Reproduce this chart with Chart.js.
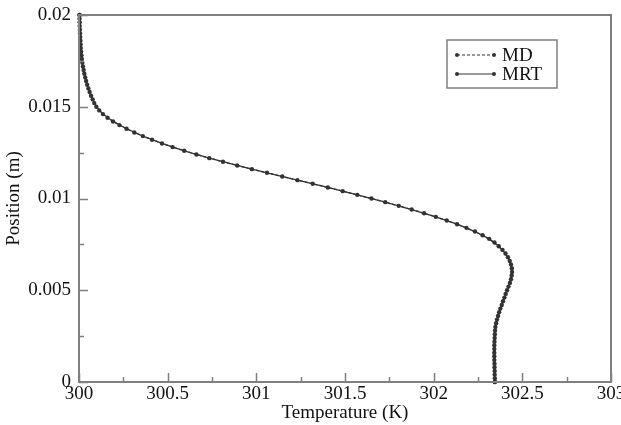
<!DOCTYPE html>
<html>
<head>
<meta charset="utf-8">
<script src="https://cdn.jsdelivr.net/npm/chart.js@4.4.1/dist/chart.umd.min.js"></script>
<style>
  html, body { margin: 0; padding: 0; background: #fff; }
</style>
</head>
<body>
<canvas id="profileChart" width="621" height="425"></canvas>
<script>
// position (m) vs temperature (K)
const positionMD = [0, 0.0004, 0.0008, 0.0012, 0.0016, 0.002, 0.0024, 0.0028, 0.0032, 0.0036,
    0.004, 0.0044, 0.0048, 0.0052, 0.0056, 0.006, 0.0064, 0.0068, 0.0072, 0.0076,
    0.008, 0.0084, 0.0088, 0.0092, 0.0096, 0.01, 0.0104, 0.0108, 0.0112, 0.0116,
    0.012, 0.0124, 0.0128, 0.0132, 0.0136, 0.014, 0.0144, 0.0148, 0.0152, 0.0156,
    0.016, 0.0164, 0.0168, 0.0172, 0.0176, 0.018, 0.0184, 0.0188, 0.0192, 0.0196, 0.02];
const temperatureMD = [302.345, 302.344, 302.343, 302.342, 302.342, 302.342, 302.344, 302.346, 302.352, 302.363,
    302.376, 302.391, 302.406, 302.422, 302.436, 302.442, 302.436, 302.419, 302.388, 302.343,
    302.276, 302.185, 302.074, 301.946, 301.803, 301.649, 301.487, 301.318, 301.146, 300.975,
    300.812, 300.662, 300.528, 300.412, 300.312, 300.228, 300.161, 300.114, 300.086, 300.068,
    300.053, 300.040, 300.030, 300.022, 300.016, 300.012, 300.009, 300.007, 300.005, 300.004, 300.003];

const positionMRT = [0, 0.0002, 0.0006, 0.001, 0.0014, 0.0018, 0.0022, 0.0026, 0.003, 0.0034,
    0.0038, 0.0042, 0.0046, 0.005, 0.0054, 0.0058, 0.0062, 0.0066, 0.007, 0.0074,
    0.0078, 0.0082, 0.0086, 0.009, 0.0094, 0.0098, 0.0102, 0.0106, 0.011, 0.0114,
    0.0118, 0.0122, 0.0126, 0.013, 0.0134, 0.0138, 0.0142, 0.0146, 0.015, 0.0154,
    0.0158, 0.0162, 0.0166, 0.017, 0.0174, 0.0178, 0.0182, 0.0186, 0.019, 0.0194, 0.0198, 0.02];
const temperatureMRT = [302.345, 302.345, 302.344, 302.343, 302.342, 302.342, 302.343, 302.345, 302.348, 302.357,
    302.369, 302.384, 302.399, 302.414, 302.430, 302.440, 302.441, 302.429, 302.405, 302.367,
    302.313, 302.233, 302.132, 302.012, 301.876, 301.727, 301.569, 301.403, 301.232, 301.060,
    300.892, 300.735, 300.593, 300.468, 300.360, 300.268, 300.192, 300.135, 300.098, 300.077,
    300.060, 300.046, 300.035, 300.026, 300.019, 300.014, 300.010, 300.008, 300.006, 300.004, 300.003, 300.003];

const xRange = [300, 303];
const yRange = [0, 0.02];

const SERIF = '"Liberation Serif", "DejaVu Serif", serif';
const INK = '#333';
const FRAME = '#808080';
const FONT_SIZE = 19;

function toPoints(xs, ys) {
    return xs.map((x, i) => ({ x: x, y: ys[i] }));
}

// frame, inward ticks (major + minor) and the boxed legend
const frameTicks = {
    id: 'frameTicks',
    afterDatasetsDraw(chart) {
        const ctx = chart.ctx;
        const a = chart.chartArea;
        const sx = chart.scales.x, sy = chart.scales.y;

        ctx.save();
        ctx.strokeStyle = FRAME;
        ctx.lineWidth = 1.5;

        ctx.beginPath();
        sx.ticks.forEach(t => {
            const px = Math.round(sx.getPixelForValue(t.value)) + 0.5;
            const len = t.label ? 9 : 5;
            ctx.moveTo(px, a.bottom);
            ctx.lineTo(px, a.bottom - len);
        });
        sy.ticks.forEach(t => {
            const py = Math.round(sy.getPixelForValue(t.value)) + 0.5;
            const len = t.label ? 9 : 5;
            ctx.moveTo(a.left, py);
            ctx.lineTo(a.left + len, py);
        });
        ctx.stroke();

        ctx.lineWidth = 2;
        ctx.strokeRect(a.left, a.top, a.right - a.left, a.bottom - a.top);

        // legend box
        const lx = 447, ly = 40, lw = 110, lh = 48;
        ctx.lineWidth = 1.5;
        ctx.strokeRect(lx, ly, lw, lh);

        ctx.font = FONT_SIZE + 'px ' + SERIF;
        ctx.textBaseline = 'middle';
        chart.data.datasets.forEach((ds, i) => {
            const yy = ly + 15 + i * 19;
            ctx.strokeStyle = INK;
            ctx.lineWidth = 1.2;
            ctx.setLineDash(ds.borderDash || []);
            ctx.beginPath();
            ctx.moveTo(457, yy);
            ctx.lineTo(494, yy);
            ctx.stroke();
            ctx.setLineDash([]);
            ctx.fillStyle = INK;
            [457, 494].forEach(px => {
                ctx.beginPath();
                ctx.arc(px, yy, 2, 0, Math.PI * 2);
                ctx.fill();
            });
            ctx.fillStyle = '#111';
            ctx.fillText(ds.label, 502, yy + 1);
        });
        ctx.restore();
    }
};

new Chart(document.getElementById('profileChart'), {
    type: 'scatter',
    data: {
        datasets: [
            {
                label: 'MD',
                data: toPoints(temperatureMD, positionMD),
                showLine: true,
                borderColor: INK,
                borderWidth: 1.3,
                borderDash: [3, 2],
                pointRadius: 2.2,
                pointBorderWidth: 0,
                pointBackgroundColor: INK,
                clip: false
            },
            {
                label: 'MRT',
                data: toPoints(temperatureMRT, positionMRT),
                showLine: true,
                borderColor: INK,
                borderWidth: 1.3,
                pointRadius: 2.2,
                pointBorderWidth: 0,
                pointBackgroundColor: INK,
                clip: false
            }
        ]
    },
    options: {
        responsive: false,
        animation: false,
        layout: { padding: { top: 15, right: 10, left: 0, bottom: 0 } },
        plugins: {
            legend: { display: false },
            tooltip: { enabled: false }
        },
        scales: {
            x: {
                type: 'linear',
                min: xRange[0],
                max: xRange[1],
                afterFit: s => { s.height = 43; s.paddingLeft = 0; s.paddingRight = 0; },
                grid: { display: true, drawOnChartArea: false, drawTicks: false },
                border: { display: false },
                ticks: {
                    stepSize: 0.25,
                    autoSkip: false,
                    maxRotation: 0,
                    padding: 1,
                    color: '#111',
                    font: { family: SERIF, size: FONT_SIZE },
                    callback: v => Math.round(v / 0.25) % 2 === 0 ? String(+v.toFixed(2)) : ''
                },
                title: {
                    display: true,
                    text: 'Temperature (K)',
                    color: '#111',
                    font: { family: SERIF, size: FONT_SIZE },
                    padding: { top: 0, bottom: 1 }
                }
            },
            y: {
                type: 'linear',
                min: yRange[0],
                max: yRange[1],
                afterFit: s => { s.width = 79; s.paddingTop = 0; s.paddingBottom = 0; },
                grid: { display: true, drawOnChartArea: false, drawTicks: false },
                border: { display: false },
                ticks: {
                    stepSize: 0.0025,
                    autoSkip: false,
                    padding: 8,
                    color: '#111',
                    font: { family: SERIF, size: FONT_SIZE },
                    callback: v => Math.round(v / 0.0025) % 2 === 0 ? String(+v.toFixed(4)) : ''
                },
                title: {
                    display: true,
                    text: 'Position (m)',
                    color: '#111',
                    font: { family: SERIF, size: FONT_SIZE },
                    padding: { top: 3, bottom: 0 }
                }
            }
        }
    },
    plugins: [frameTicks]
});
</script>
</body>
</html>
